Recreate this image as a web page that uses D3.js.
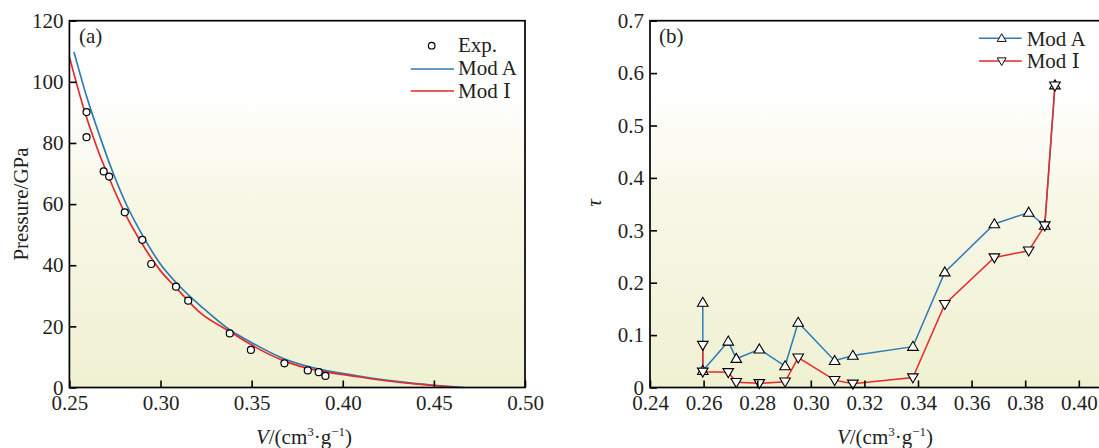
<!DOCTYPE html>
<html>
<head>
<meta charset="utf-8">
<script src="https://cdn.jsdelivr.net/npm/d3@7"></script>
<style>
  body { margin: 0; background: #fff; }
  text { font-family: "Liberation Serif", "Times New Roman", serif; fill: #231f20; }
  .roman { font-family: "DejaVu Serif", "Liberation Serif", serif; }
</style>
</head>
<body>
<div id="chart"></div>
<script>
// ---- data ----
// (a) pressure vs specific volume
var expV = [0.2594, 0.2594, 0.2688, 0.2718, 0.2804, 0.2900, 0.2949, 0.3085, 0.3152, 0.3380, 0.3496, 0.3680, 0.3808, 0.3868, 0.3905];
var expP = [90.1, 81.9, 70.7, 69.0, 57.3, 48.3, 40.4, 33.0, 28.4, 17.7, 12.3, 7.9, 5.6, 5.0, 3.8];

var modAV = [0.2525, 0.2595, 0.2668, 0.2741, 0.2814, 0.2906, 0.2997, 0.3089, 0.3235, 0.3381, 0.3491, 0.3674, 0.3857, 0.4040, 0.4236, 0.4450, 0.4664];
var modAP = [109.8, 95.1, 82.0, 70.0, 59.7, 49.3, 40.6, 34.1, 25.9, 18.8, 15.0, 9.5, 6.2, 4.2, 2.4, 1.0, 0];

var modIV = [0.2500, 0.2576, 0.2650, 0.2723, 0.2805, 0.2897, 0.2997, 0.3089, 0.3217, 0.3381, 0.3491, 0.3674, 0.3857, 0.4040, 0.4236, 0.4450, 0.4630];
var modIP = [108.2, 91.8, 78.7, 67.8, 57.0, 47.2, 38.4, 32.4, 24.5, 18.3, 14.2, 8.8, 5.6, 3.9, 2.2, 0.9, 0];

// (b) tau vs specific volume
var tauV = [0.2597, 0.2597, 0.2692, 0.2722, 0.2808, 0.2904, 0.2953, 0.3089, 0.3157, 0.3381, 0.3500, 0.3685, 0.3813, 0.3873, 0.3911];
var tauA = [0.162, 0.032, 0.088, 0.055, 0.073, 0.041, 0.124, 0.051, 0.061, 0.078, 0.220, 0.312, 0.334, 0.309, 0.577];
var tauI = [0.081, 0.030, 0.029, 0.010, 0.008, 0.011, 0.057, 0.014, 0.007, 0.019, 0.159, 0.248, 0.261, 0.309, 0.576];

// ticks
var xTicksA = [0.25, 0.30, 0.35, 0.40, 0.45, 0.50];
var yTicksA = [0, 20, 40, 60, 80, 100, 120];
var xTicksB = [0.24, 0.26, 0.28, 0.30, 0.32, 0.34, 0.36, 0.38, 0.40];
var yTicksB = [0, 0.1, 0.2, 0.3, 0.4, 0.5, 0.6, 0.7];

var chart_width = 1099;
var chart_height = 448;
var blue = '#2f7bb8';
var red = '#e7292c';

var svg = d3.select('#chart')
    .append('svg')
    .attr('width', chart_width)
    .attr('height', chart_height);

// background gradient of the plot areas
var grad = svg.append('defs').append('linearGradient')
    .attr('id', 'bg')
    .attr('x1', 0).attr('y1', 0).attr('x2', 0).attr('y2', 1);
grad.append('stop').attr('offset', '0').attr('stop-color', '#ffffff');
grad.append('stop').attr('offset', '0.18').attr('stop-color', '#ffffff');
grad.append('stop').attr('offset', '0.5').attr('stop-color', '#f7f7e6');
grad.append('stop').attr('offset', '1').attr('stop-color', '#eff1d2');

// scales
var xA = d3.scaleLinear().domain([0.25, 0.50]).range([69.4, 525]);
var yA = d3.scaleLinear().domain([0, 120]).range([387.5, 20.7]);
var xB = d3.scaleLinear().domain([0.24, 0.42]).range([650, 1132.4]);
var yB = d3.scaleLinear().domain([0, 0.7]).range([387.5, 20.7]);

function frame(x, y) {
    svg.append('rect')
        .attr('x', x.range()[0])
        .attr('y', y.range()[1])
        .attr('width', x.range()[1] - x.range()[0])
        .attr('height', y.range()[0] - y.range()[1])
        .attr('fill', 'url(#bg)');
}

function axes(x, y, xt, yt, xfmt, yfmt) {
    var gx = svg.append('g')
        .attr('transform', `translate(0, ${y.range()[0]})`)
        .call(d3.axisBottom(x).tickValues(xt).tickFormat(xfmt).tickSize(-7).tickPadding(8));
    var gy = svg.append('g')
        .attr('transform', `translate(${x.range()[0]}, 0)`)
        .call(d3.axisLeft(y).tickValues(yt).tickFormat(yfmt).tickSize(-7).tickPadding(6));
    [gx, gy].forEach(g => {
        g.select('.domain').remove();
        g.selectAll('line').attr('stroke', '#000').attr('stroke-width', 1.6);
        g.selectAll('text').style('font-size', '21px').attr('fill', '#231f20');
    });
    // frame outline
    svg.append('rect')
        .attr('x', x.range()[0])
        .attr('y', y.range()[1])
        .attr('width', x.range()[1] - x.range()[0])
        .attr('height', y.range()[0] - y.range()[1])
        .attr('fill', 'none')
        .attr('stroke', '#000')
        .attr('stroke-width', 1.7);
}

function xTitle(cx) {
    var t = svg.append('text')
        .attr('x', cx)
        .attr('y', 444)
        .attr('text-anchor', 'middle')
        .style('font-size', '21px');
    t.append('tspan').style('font-style', 'italic').text('V');
    t.append('tspan').text('/(cm');
    t.append('tspan').attr('dy', -8).style('font-size', '13px').text('3');
    t.append('tspan').attr('dy', 8).text('·g');
    t.append('tspan').attr('dy', -8).style('font-size', '13px').text('−1');
    t.append('tspan').attr('dy', 8).text(')');
}

// "Mod Ⅰ" with the roman numeral in a serif face that has the glyph
function legendText(x, y, label) {
    var t = svg.append('text').attr('x', x).attr('y', y).style('font-size', '21px');
    if (label.endsWith('Ⅰ')) {
        t.append('tspan').text(label.slice(0, -1));
        t.append('tspan').attr('class', 'roman').style('font-size', '20px').text('Ⅰ');
    } else {
        t.text(label);
    }
}

var triUp = 'M0,-5.3L5.3,3.7L-5.3,3.7Z';
var triDown = 'M0,5.3L5.3,-3.7L-5.3,-3.7Z';

// ---------- panel (a) ----------
frame(xA, yA);

var lineA = d3.line()
    .x(d => xA(d[0]))
    .y(d => yA(d[1]))
    .curve(d3.curveMonotoneX);

svg.append('path')
    .datum(d3.zip(modAV, modAP))
    .attr('d', lineA)
    .attr('fill', 'none')
    .attr('stroke', blue)
    .attr('stroke-width', 1.7);

svg.append('path')
    .datum(d3.zip(modIV, modIP))
    .attr('d', lineA)
    .attr('fill', 'none')
    .attr('stroke', red)
    .attr('stroke-width', 1.7);

svg.append('g').selectAll('circle')
    .data(d3.zip(expV, expP))
    .enter()
    .append('circle')
    .attr('cx', d => xA(d[0]))
    .attr('cy', d => yA(d[1]))
    .attr('r', 3.5)
    .attr('fill', '#fff')
    .attr('stroke', '#000')
    .attr('stroke-width', 1.2);

axes(xA, yA, xTicksA, yTicksA, d3.format('.2f'), d3.format('d'));

svg.append('text')
    .attr('transform', 'translate(28, 204) rotate(-90)')
    .attr('text-anchor', 'middle')
    .style('font-size', '21px')
    .text('Pressure/GPa');
xTitle(304);

svg.append('text').attr('x', 79).attr('y', 43).style('font-size', '21px').text('(a)');

// legend (a)
svg.append('circle')
    .attr('cx', 431.7).attr('cy', 45.7).attr('r', 3.3)
    .attr('fill', '#fff').attr('stroke', '#000').attr('stroke-width', 1.2);
legendText(458, 52, 'Exp.');
svg.append('line').attr('x1', 410.7).attr('x2', 454).attr('y1', 69).attr('y2', 69)
    .attr('stroke', blue).attr('stroke-width', 1.7);
legendText(458, 75, 'Mod A');
svg.append('line').attr('x1', 410.7).attr('x2', 454).attr('y1', 91).attr('y2', 91)
    .attr('stroke', red).attr('stroke-width', 1.7);
legendText(458, 97.5, 'Mod Ⅰ');

// ---------- panel (b) ----------
frame(xB, yB);

var lineB = d3.line()
    .x(d => xB(d[0]))
    .y(d => yB(d[1]));

var seriesB = [
    {vals: tauA, color: blue, sym: triUp},
    {vals: tauI, color: red, sym: triDown}
];

seriesB.forEach(s => {
    svg.append('path')
        .datum(d3.zip(tauV, s.vals))
        .attr('d', lineB)
        .attr('fill', 'none')
        .attr('stroke', s.color)
        .attr('stroke-width', 1.5);
});

seriesB.forEach(s => {
    svg.append('g').selectAll('path')
        .data(d3.zip(tauV, s.vals))
        .enter()
        .append('path')
        .attr('d', s.sym)
        .attr('transform', d => `translate(${xB(d[0])}, ${yB(d[1])})`)
        .attr('fill', '#fff')
        .attr('stroke', '#000')
        .attr('stroke-width', 1.1);
});

axes(xB, yB, xTicksB, yTicksB, d3.format('.2f'), d => d === 0 ? '0' : d3.format('.1f')(d));

svg.append('text')
    .attr('transform', 'translate(601, 203) rotate(-90)')
    .attr('text-anchor', 'middle')
    .style('font-size', '21px')
    .style('font-style', 'italic')
    .text('τ');
xTitle(885);

svg.append('text').attr('x', 659).attr('y', 43).style('font-size', '21px').text('(b)');

// legend (b)
var legB = [
    {label: 'Mod A', color: blue, sym: triUp, y: 38.3},
    {label: 'Mod Ⅰ', color: red, sym: triDown, y: 61}
];
legB.forEach(l => {
    svg.append('line').attr('x1', 979).attr('x2', 1021.7).attr('y1', l.y).attr('y2', l.y)
        .attr('stroke', l.color).attr('stroke-width', 1.5);
    svg.append('path').attr('d', l.sym)
        .attr('transform', `translate(1001.7, ${l.y}) scale(0.85)`)
        .attr('fill', '#fff').attr('stroke', '#000').attr('stroke-width', 1.1);
    legendText(1026.7, l.y + 7.3, l.label);
});
</script>
</body>
</html>
